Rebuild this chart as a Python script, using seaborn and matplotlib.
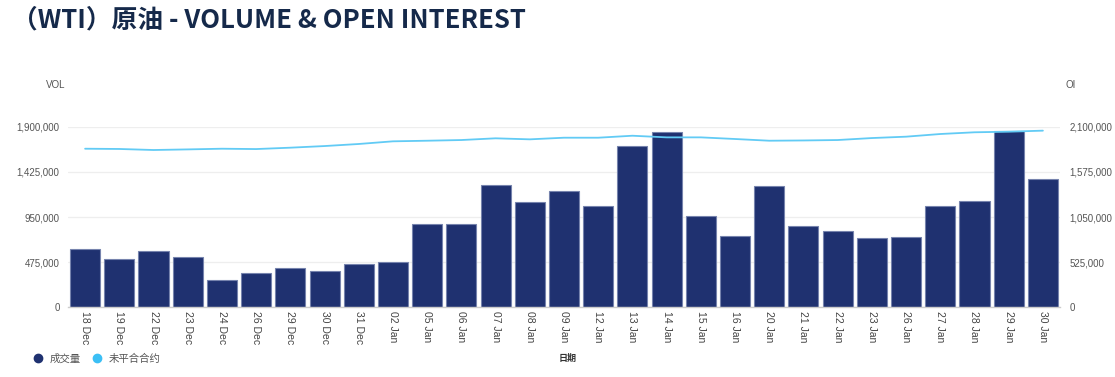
import numpy as np
import pandas as pd
import matplotlib
matplotlib.use("Agg")
import matplotlib.pyplot as plt
from matplotlib.lines import Line2D
import seaborn as sns

dates = ["18 Dec", "19 Dec", "22 Dec", "23 Dec", "24 Dec", "26 Dec", "29 Dec", "30 Dec",
         "31 Dec", "02 Jan", "05 Jan", "06 Jan", "07 Jan", "08 Jan", "09 Jan", "12 Jan",
         "13 Jan", "14 Jan", "15 Jan", "16 Jan", "20 Jan", "21 Jan", "22 Jan", "23 Jan",
         "26 Jan", "27 Jan", "28 Jan", "29 Jan", "30 Jan"]
volume = [610000, 511000, 589000, 529000, 284000, 361000, 410000, 379000,
          452000, 480000, 873000, 880000, 1290000, 1105000, 1224000, 1063000,
          1694000, 1844000, 964000, 753000, 1273000, 852000, 800000, 726000,
          736000, 1069000, 1118000, 1855000, 1347000]
open_interest = [1844000, 1841000, 1829000, 1836000, 1844000, 1840000, 1856000, 1875000,
                 1899000, 1930000, 1937000, 1945000, 1965000, 1953000, 1972000, 1972000,
                 1995000, 1976000, 1976000, 1957000, 1937000, 1940000, 1945000, 1968000,
                 1984000, 2015000, 2035000, 2042000, 2054000]
vol_ticks = [0, 475000, 950000, 1425000, 1900000]
oi_ticks = [0, 525000, 1050000, 1575000, 2100000]

title = "（WTI）原油 - VOLUME & OPEN INTEREST"
vol_label = "VOL"
oi_label = "OI"
x_label = "日期"
legend_labels = ["成交量", "未平合合约"]

sns.set_theme(style="white")
plt.rcParams['font.family'] = ['Liberation Sans', 'Noto Sans CJK SC', 'DejaVu Sans']

BAR = "#1f3170"
LINE = "#62cbf5"

df = pd.DataFrame({"date": dates, "vol": volume, "oi": open_interest})

fig = plt.figure(figsize=(11.15, 3.77), dpi=100)
ax = fig.add_axes([68/1115, 1-307.3/377, (1060-68)/1115, (307.3-126.7)/377])

sns.barplot(data=df, x="date", y="vol", ax=ax, color=BAR, width=0.88,
            edgecolor="#7683ad", linewidth=0.8, saturation=1, zorder=2)
ax.set_ylim(0, 1900000)
ax.set_xlim(-0.5, len(dates) - 0.5)
ax.set_yticks(vol_ticks)
ax.set_yticklabels([f"{v:,}" for v in vol_ticks], color="#555555", fontsize=7)
ax.grid(axis="y", color="#eeeeee", linewidth=0.9, zorder=0)
ax.grid(axis="x", visible=False)
ax.set_axisbelow(True)
for s in ["top", "right", "left"]:
    ax.spines[s].set_visible(False)
ax.spines["bottom"].set_color("#cccccc")
ax.spines["bottom"].set_linewidth(1.0)
ax.tick_params(axis="y", length=0, pad=6)
ax.tick_params(axis="x", length=0, pad=3)
ax.set_xticks(range(len(dates)))
ax.set_xticklabels(dates, rotation=-90, fontsize=7.5, color="#444444")
ax.set_xlabel("")
ax.set_ylabel("")

ax2 = ax.twinx()
sns.pointplot(data=df, x="date", y="oi", ax=ax2, color=LINE, markers="",
              linewidth=1.3, errorbar=None, zorder=3)
ax2.set_ylim(0, 2100000)
ax2.set_xlim(-0.5, len(dates) - 0.5)
ax2.set_yticks(oi_ticks)
ax2.set_yticklabels([f"{v:,}" for v in oi_ticks], color="#555555", fontsize=7)
ax2.tick_params(axis="y", length=0, pad=7)
ax2.grid(False)
for s in ["top", "right", "left", "bottom"]:
    ax2.spines[s].set_visible(False)
ax2.set_xlabel("")
ax2.set_ylabel("")

fig.text(12/1115, 1-20/377, title, fontsize=18.5, color="#15294a", fontweight="bold",
         family=["Noto Sans CJK SC", "DejaVu Sans"], va="center", ha="left")
fig.text(56/1115, 1-85/377, vol_label, fontsize=7, color="#555555", va="center", ha="center")
fig.text(1071/1115, 1-85/377, oi_label, fontsize=7, color="#555555", va="center", ha="center")
fig.text(568/1115, 1-358/377, x_label, fontsize=6.5, color="#333333", fontweight="bold",
         va="center", ha="center", family=["Noto Sans CJK SC", "DejaVu Sans"])

handles = [Line2D([], [], marker="o", linestyle="", color=BAR, markersize=6),
           Line2D([], [], marker="o", linestyle="", color="#3bbff5", markersize=6)]
leg = fig.legend(handles, legend_labels, loc="center left", bbox_to_anchor=(18/1115, 1-359/377),
                 ncol=2, frameon=False, handletextpad=0.1, columnspacing=0.6,
                 prop={"family": ["Noto Sans CJK SC", "DejaVu Sans"], "size": 7.5, "style": "italic"})
for t in leg.get_texts():
    t.set_color("#555555")

fig.savefig("out.png", dpi=100)
